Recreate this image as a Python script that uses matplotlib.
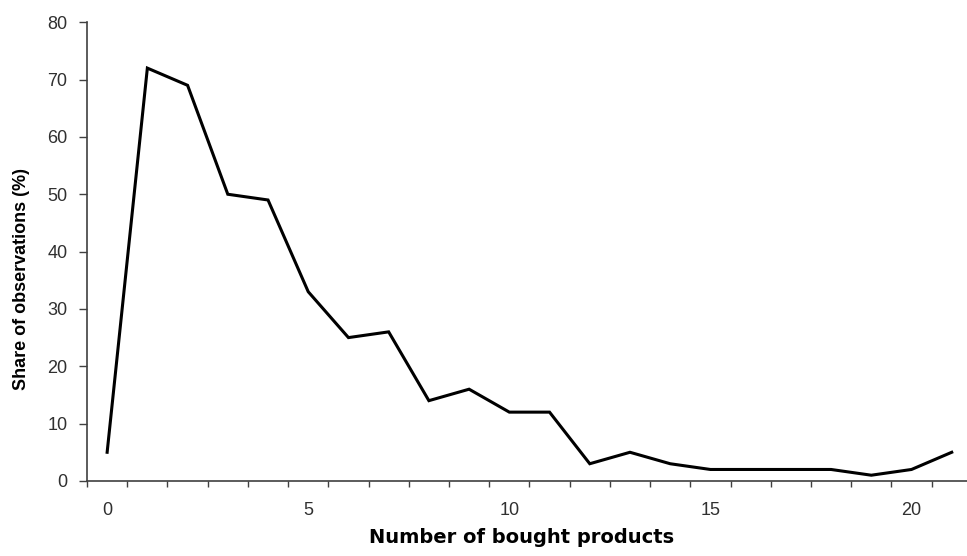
import matplotlib
matplotlib.use("Agg")
import matplotlib.pyplot as plt
import numpy as np

plt.rcParams["font.family"] = ["Liberation Sans", "DejaVu Sans"]

# number of bought products (categories) and share of observations (%)
products = list(range(22))
share = [5, 72, 69, 50, 49, 33, 25, 26, 14, 16, 12, 12, 3, 5, 3, 2, 2, 2, 2, 1, 2, 5]
y_ticks = [0, 10, 20, 30, 40, 50, 60, 70, 80]
x_labels = [0, 5, 10, 15, 20]

AXIS_COLOR = "#404040"
TEXT_COLOR = "#303030"

fig = plt.figure(figsize=(9.67, 5.56), dpi=100)
# category axis runs a bit past the right edge, like the original
ax = fig.add_axes([0.090, 0.135, 0.915, 0.825])

ax.plot(products, share, color="black", linewidth=2.2, solid_joinstyle="miter")

ax.set_xlim(-0.5, len(products) - 0.5)
ax.set_ylim(0, 80)

ax.set_yticks(y_ticks)
ax.set_xticks(x_labels)
ax.set_xticks(np.arange(-0.5, len(products), 1.0), minor=True)

ax.tick_params(axis="y", direction="out", length=6, width=1, color=AXIS_COLOR,
               labelsize=13, labelcolor=TEXT_COLOR, pad=8)
ax.tick_params(axis="x", which="major", length=0, labelsize=13,
               labelcolor=TEXT_COLOR, pad=15)
ax.tick_params(axis="x", which="minor", direction="out", length=4.5, width=1,
               color=AXIS_COLOR)

for side in ["top", "right"]:
    ax.spines[side].set_visible(False)
for side in ["left", "bottom"]:
    ax.spines[side].set_color(AXIS_COLOR)
    ax.spines[side].set_linewidth(1.2)

fig.text(0.539, 0.034, "Number of bought products", ha="center", va="center",
         fontsize=14, fontweight="bold", family="DejaVu Sans")
fig.text(0.022, 0.498, "Share of observations (%)", ha="center", va="center",
         rotation=90, fontsize=13, fontweight="bold")

fig.savefig("out.png", dpi=100, facecolor="white")
